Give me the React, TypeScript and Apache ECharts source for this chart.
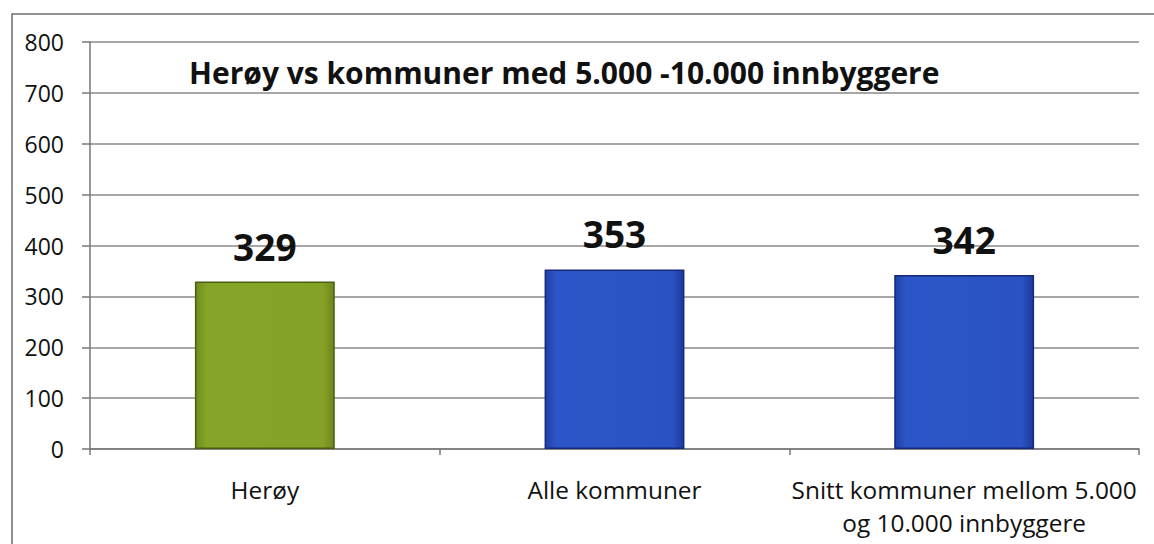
import React, { useEffect, useRef } from "react";
import * as echarts from "echarts";

const categories = ["Herøy", "Alle kommuner", "Snitt kommuner mellom 5.000\nog 10.000 innbyggere"];
const values = [329, 353, 342];
const yTicks = { min: 0, max: 800, interval: 100 };
const title = "Herøy vs kommuner med 5.000 -10.000 innbyggere";

const FONT = "'Open Sans', sans-serif";

const greenFill = new echarts.graphic.LinearGradient(0, 0, 1, 0, [
  { offset: 0, color: "#6f8c1c" },
  { offset: 0.08, color: "#86a427" },
  { offset: 0.92, color: "#84a226" },
  { offset: 1, color: "#6a871a" },
]);
const blueFill = new echarts.graphic.LinearGradient(0, 0, 1, 0, [
  { offset: 0, color: "#1f40a8" },
  { offset: 0.08, color: "#2c56c8" },
  { offset: 0.92, color: "#2a52c2" },
  { offset: 1, color: "#1c3a9c" },
]);

export default function App() {
  const ref = useRef<HTMLDivElement>(null);
  useEffect(() => {
    if (!ref.current) return;
    const chart = echarts.init(ref.current, null, { renderer: "svg" });
    chart.setOption({
      animation: false,
      backgroundColor: "#ffffff",
      grid: { left: 90, right: 15, top: 42, bottom: 95, containLabel: false },
      graphic: [
        {
          type: "rect",
          shape: { x: 12, y: 14, width: 1200, height: 600 },
          style: { fill: "none", stroke: "#6e6e6e", lineWidth: 1.5 },
          silent: true,
        },
        {
          type: "text",
          x: 189,
          y: 72,
          style: {
            text: title,
            font: `bold 30px ${FONT}`,
            fill: "#111",
            verticalAlign: "middle",
          },
        },
      ],
      xAxis: {
        type: "category",
        data: categories,
        axisLine: { show: true, lineStyle: { color: "#777", width: 1.5 } },
        axisTick: { show: true, length: 6, interval: 0, lineStyle: { color: "#777", width: 1.5 } },
        axisLabel: {
          interval: 0,
          fontSize: 24.4,
          lineHeight: 33,
          margin: 24,
          color: "#111",
          fontFamily: FONT,
        },
      },
      yAxis: {
        type: "value",
        min: yTicks.min,
        max: yTicks.max,
        interval: yTicks.interval,
        axisLine: { show: true, lineStyle: { color: "#777", width: 1.5 } },
        axisTick: { show: true, length: 8, lineStyle: { color: "#777", width: 1.5 } },
        axisLabel: { fontSize: 23, color: "#111", margin: 26, fontFamily: FONT },
        splitLine: { show: true, lineStyle: { color: "#8a8a8a", width: 1.5 } },
      },
      series: [
        {
          type: "bar",
          barWidth: "40%",
          data: values.map((v, i) => ({
            value: v,
            itemStyle: {
              color: i === 0 ? greenFill : blueFill,
              borderColor: i === 0 ? "#4a5f12" : "#17297a",
              borderWidth: 1.5,
            },
          })),
          label: {
            show: true,
            position: "top",
            distance: 17,
            fontSize: 37,
            fontWeight: "bold",
            color: "#111",
            fontFamily: FONT,
          },
        },
      ],
    });
    return () => chart.dispose();
  }, []);
  return (
    <div
      ref={ref}
      style={{ position: "fixed", left: 0, top: 0, width: 1154, height: 544 }}
    />
  );
}
